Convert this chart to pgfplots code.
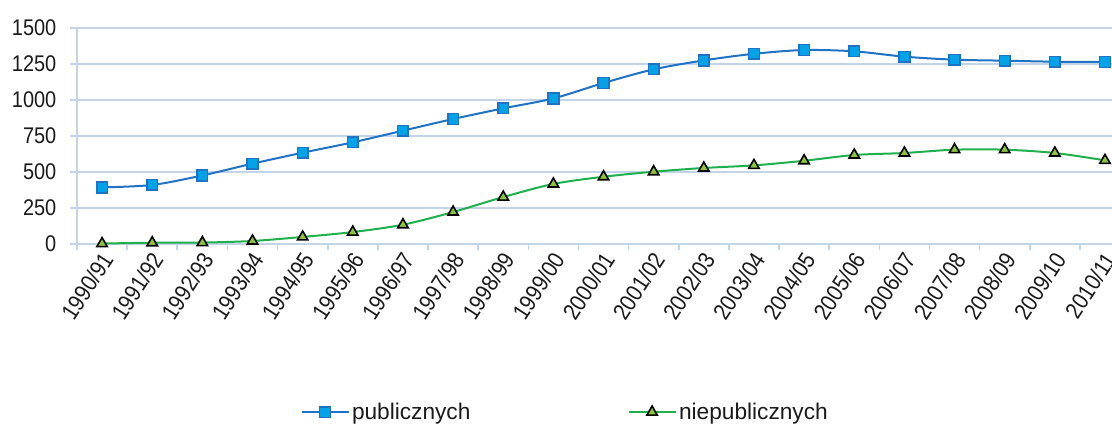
\documentclass[border=0pt]{standalone}
\usepackage{fontspec}
\setmainfont{Liberation Sans}[FakeStretch=0.88]
\newfontfamily\plainfont{Liberation Sans}
\usepackage{pgfplots}
\pgfplotsset{compat=1.18}
\definecolor{gridc}{HTML}{C3D3E8}
\definecolor{pubL}{HTML}{1F72C4}
\definecolor{pubF}{HTML}{00A2E8}
\definecolor{niepL}{HTML}{1EB04C}
\definecolor{niepF}{HTML}{8CC43C}
\definecolor{txt}{HTML}{1A1A1A}
\begin{document}
\begin{tikzpicture}
\begin{axis}[
  scale only axis, width=776.25bp, height=162bp,
  xmin=-0.5, xmax=20.14, ymin=0, ymax=1500,
  ytick={0,250,...,1500},
  xtick={0,...,20},
  xticklabels={1990/91,1991/92,1992/93,1993/94,1994/95,1995/96,1996/97,1997/98,1998/99,1999/00,2000/01,2001/02,2002/03,2003/04,2004/05,2005/06,2006/07,2007/08,2008/09,2009/10,2010/11},
  minor xtick={-0.5,0.5,...,20.5},
  major x tick style={draw=none},
  minor x tick style={gridc, line width=1.2bp},
  y tick style={gridc, line width=1.2bp},
  tick align=outside,
  major tick length=5bp, minor tick length=4.5bp,
  axis x line*=bottom, axis y line*=left,
  axis line style={gridc, line width=1.3bp, -},
  ymajorgrids, grid style={gridc, line width=1bp},
  yticklabel style={font=\fontsize{17bp}{19bp}\selectfont, text=txt, xshift=-7bp},
  xticklabel style={font=\fontsize{17.5bp}{19bp}\selectfont, text=txt, rotate=57, anchor=east, yshift=-5bp, xshift=3bp},
  /pgf/number format/assume math mode=true,
  /pgf/number format/1000 sep={},
  legend columns=2,
  legend style={draw=none, fill=none, at={(0.212,-0.778)}, anchor=west,
    font=\plainfont\fontsize{17bp}{20bp}\selectfont, text=txt,
    /tikz/every even column/.append style={column sep=116bp}},
  legend image code/.code={\draw[#1, mark repeat=2, mark phase=2] plot coordinates {(0bp,0bp) (17.5bp,0bp) (35bp,0bp)};},
]
\addplot[smooth, tension=0.5, pubL, line width=1.5bp, mark=square*, mark size=4bp,
  mark options={fill=pubF, draw=pubL, line width=1.2bp}]
  coordinates {(0,393) (1,410) (2,476) (3,558) (4,634) (5,706) (6,787) (7,868) (8,942) (9,1011) (10,1118) (11,1213) (12,1275) (13,1321) (14,1347) (15,1338) (16,1301) (17,1280) (18,1273) (19,1266) (20,1264)};
\addlegendentry{publicznych}
\addplot[smooth, tension=0.5, niepL, line width=1.5bp, mark=triangle*, mark size=4.5bp,
  mark options={fill=niepF, draw=black, line width=1.2bp}]
  coordinates {(0,3) (1,9) (2,10) (3,21) (4,49) (5,83) (6,134) (7,222) (8,326) (9,417) (10,467) (11,502) (12,528) (13,546) (14,578) (15,618) (16,632) (17,655) (18,655) (19,632) (20,581)};
\addlegendentry{niepublicznych}
\end{axis}
\pgfresetboundingbox
\useasboundingbox (-57.75bp,-135.75bp) rectangle (776.25bp,183bp);
\end{tikzpicture}
\end{document}
